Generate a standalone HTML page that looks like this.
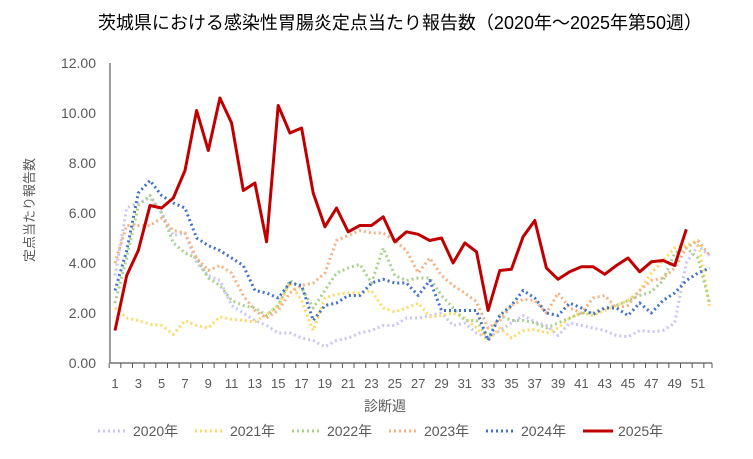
<!DOCTYPE html>
<html><head><meta charset="utf-8"><style>
body{margin:0;background:#fff;}
svg text{font-family:"Liberation Sans","Noto Sans CJK JP",sans-serif;fill:#595959;}
</style></head><body>
<svg id="s" width="753" height="454" viewBox="0 0 753 454" xmlns="http://www.w3.org/2000/svg">
<text x="400" y="29" text-anchor="middle" font-size="18" style="fill:#000">茨城県における感染性胃腸炎定点当たり報告数（2020年～2025年第50週）</text>
<g font-size="14" text-anchor="end">
<text x="96" y="368">0.00</text><text x="96" y="318">2.00</text><text x="96" y="268">4.00</text>
<text x="96" y="218">6.00</text><text x="96" y="168">8.00</text><text x="96" y="118">10.00</text><text x="96" y="68">12.00</text>
</g>
<text transform="translate(34,210) rotate(-90)" text-anchor="middle" font-size="13">定点当たり報告数</text>
<text x="385" y="411" text-anchor="middle" font-size="14">診断週</text>
<g id="xl" font-size="13" text-anchor="middle"></g>
<line x1="110" y1="63" x2="110" y2="363" stroke="#595959" stroke-width="1.2"/>
<line x1="110" y1="363" x2="712" y2="363" stroke="#595959" stroke-width="1.2"/>
<g id="ticks" stroke="#595959" stroke-width="1"></g>
<g id="lines" fill="none" stroke-linejoin="round"></g>
<g font-size="14">
<line x1="98" y1="431" x2="128" y2="431" stroke="#c9c6f5" stroke-width="3" stroke-dasharray="2 3"/><text x="133" y="436">2020年</text>
<line x1="195" y1="431" x2="225" y2="431" stroke="#ffd966" stroke-width="3" stroke-dasharray="2 3"/><text x="230" y="436">2021年</text>
<line x1="292" y1="431" x2="322" y2="431" stroke="#a9d18e" stroke-width="3" stroke-dasharray="2 3"/><text x="327" y="436">2022年</text>
<line x1="389" y1="431" x2="419" y2="431" stroke="#f4b183" stroke-width="3" stroke-dasharray="2 3"/><text x="424" y="436">2023年</text>
<line x1="486" y1="431" x2="516" y2="431" stroke="#4472c4" stroke-width="3" stroke-dasharray="2 3"/><text x="521" y="436">2024年</text>
<line x1="583" y1="431" x2="613" y2="431" stroke="#c00000" stroke-width="3"/><text x="618" y="436">2025年</text>
</g>
</svg>
<script>
var NS="http://www.w3.org/2000/svg";
function X(i){return 115+(i-1)*11.66;}
function Y(v){return 363-v*25;}
var xl=document.getElementById('xl'),tk=document.getElementById('ticks');
for(var i=1;i<=52;i++){
 var t=document.createElementNS(NS,'line');var xx=X(i)-5.83;
 t.setAttribute('x1',xx);t.setAttribute('x2',xx);t.setAttribute('y1',363);t.setAttribute('y2',368);tk.appendChild(t);
 if(i%2==1){var e=document.createElementNS(NS,'text');e.setAttribute('x',X(i));e.setAttribute('y',388);e.textContent=i;xl.appendChild(e);}
}
var t=document.createElementNS(NS,'line');t.setAttribute('x1',712);t.setAttribute('x2',712);t.setAttribute('y1',363);t.setAttribute('y2',368);tk.appendChild(t);
var D=[
["#c9c6f5",0,[3.5,6.2,6.4,6.6,6.0,5.1,5.2,4.0,3.5,3.3,2.3,2.0,1.7,1.5,1.2,1.2,1.0,0.9,0.65,0.9,1.0,1.2,1.3,1.5,1.5,1.8,1.8,1.9,2.0,1.5,1.6,1.2,1.0,1.3,1.6,1.9,1.65,1.5,1.1,1.6,1.5,1.4,1.3,1.1,1.05,1.3,1.25,1.3,1.6,4.0,4.7,4.3]],
["#ffd966",0,[2.2,1.8,1.7,1.55,1.5,1.15,1.7,1.5,1.4,1.85,1.75,1.7,1.65,1.95,2.3,3.2,2.5,1.3,2.6,2.75,2.8,2.8,2.9,2.2,2.05,2.2,2.4,1.85,1.9,2.0,1.8,1.4,0.9,1.4,1.0,1.3,1.35,1.2,1.4,1.8,2.0,1.9,2.1,2.3,2.5,2.9,3.6,4.1,4.6,4.7,4.9,2.2]],
["#a9d18e",0,[2.4,4.2,6.3,6.7,6.0,4.8,4.4,4.2,3.4,3.1,2.5,2.3,2.2,1.9,2.3,3.3,3.0,2.2,2.9,3.6,3.8,3.95,3.2,4.6,3.5,3.3,3.4,3.4,2.7,2.2,1.7,1.7,1.0,1.9,1.7,1.7,1.6,1.4,1.6,1.8,2.0,2.0,2.2,2.3,2.5,2.7,2.85,3.3,4.4,4.6,4.2,2.4]],
["#f4b183",0,[4.0,5.5,5.5,5.5,5.8,5.3,5.2,4.2,3.7,3.9,3.6,2.7,2.1,1.8,2.1,2.8,3.1,3.2,3.6,4.9,5.1,5.3,5.2,5.2,4.9,4.5,3.6,4.2,3.5,3.1,2.8,2.45,1.4,1.7,2.3,2.55,2.5,2.0,2.8,2.2,2.0,2.6,2.7,2.2,2.3,2.9,3.3,3.4,3.8,4.6,4.9,4.3]],
["#4472c4",0,[2.9,4.5,6.8,7.3,6.7,6.4,6.2,5.0,4.7,4.5,4.2,3.9,2.9,2.8,2.6,3.2,3.1,1.7,2.3,2.4,2.7,2.7,3.2,3.35,3.2,3.2,2.7,3.3,2.1,2.1,2.1,2.1,0.9,1.9,2.3,2.9,2.6,2.0,1.9,2.4,2.2,1.95,2.2,2.2,1.9,2.4,2.0,2.5,2.8,3.3,3.6,3.8]],
["#c00000",1,[1.3,3.5,4.5,6.3,6.2,6.6,7.7,10.1,8.5,10.6,9.6,6.9,7.2,4.85,10.3,9.2,9.4,6.8,5.45,6.2,5.25,5.5,5.5,5.85,4.85,5.25,5.15,4.9,5.0,4.0,4.8,4.45,2.1,3.7,3.75,5.05,5.7,3.8,3.35,3.65,3.85,3.85,3.55,3.9,4.2,3.65,4.05,4.1,3.9,5.35]]
];
var g=document.getElementById('lines');
D.forEach(function(d){var p=document.createElementNS(NS,'polyline');
 p.setAttribute('points',d[2].map(function(v,i){return X(i+1).toFixed(1)+','+Y(v).toFixed(1)}).join(' '));
 p.setAttribute('stroke',d[0]);p.setAttribute('stroke-width',3);
 if(!d[1])p.setAttribute('stroke-dasharray','2 3');g.appendChild(p);});
</script>
</body></html>
